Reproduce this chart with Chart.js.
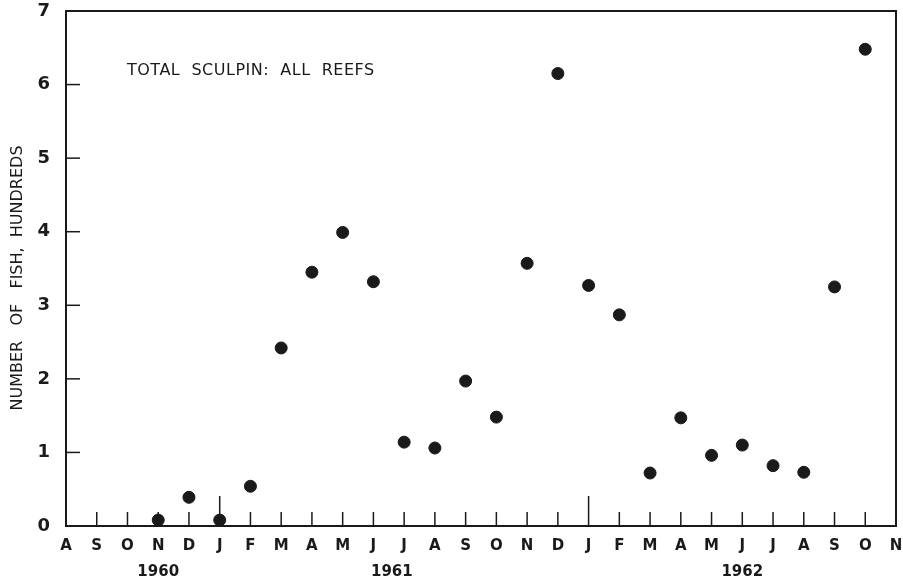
<!DOCTYPE html>
<html>
<head>
<meta charset="utf-8">
<script src="https://cdn.jsdelivr.net/npm/chart.js@4/dist/chart.umd.min.js"></script>
<style>
  html, body { margin: 0; padding: 0; background: #fff; }
  #wrap { width: 903px; height: 583px; }
</style>
</head>
<body>
<div id="wrap"><canvas id="myChart" width="903" height="583"></canvas></div>
<script>
// month letters along the bottom, Aug 1960 .. Nov 1962
const monthLabels = ["A","S","O","N","D","J","F","M","A","M","J","J","A","S","O","N","D","J","F","M","A","M","J","J","A","S","O","N"];
// month index (position on x) of each sample, Nov 1960 .. Oct 1962
const sampleMonths = [3,4,5,6,7,8,9,10,11,12,13,14,15,16,17,18,19,20,21,22,23,24,25,26];
// number of fish, hundreds
const fishHundreds = [0.08,0.39,0.08,0.54,2.42,3.45,3.99,3.32,1.14,1.06,1.97,1.48,3.57,6.15,3.27,2.87,0.72,1.47,0.96,1.10,0.82,0.73,3.25,6.48];
const yearLabels = ["1960","1961","1962"];
const yearPositions = [3,10.6,22];
const januaryMonths = [5,17];
const yTicks = [0,1,2,3,4,5,6,7];

const ink = '#1a1a1a';
const font = 'DejaVu Sans';

const points = sampleMonths.map((m, i) => ({ x: m, y: fishHundreds[i] }));

// inward ticks, frame, years and labels
const extras = {
  id: 'extras',
  afterDraw(chart) {
    const ctx = chart.ctx;
    const xs = chart.scales.x;
    const ys = chart.scales.y;
    const area = chart.chartArea;
    ctx.save();
    ctx.strokeStyle = ink;
    ctx.lineWidth = 2;
    // top and right frame
    ctx.beginPath();
    ctx.moveTo(area.left, area.top);
    ctx.lineTo(area.right, area.top);
    ctx.lineTo(area.right, area.bottom);
    ctx.stroke();
    // x ticks pointing up
    ctx.lineWidth = 1.5;
    for (let i = 1; i < monthLabels.length - 1; i++) {
      const px = xs.getPixelForValue(i);
      const len = januaryMonths.includes(i) ? 30 : 14;
      ctx.beginPath();
      ctx.moveTo(px, area.bottom);
      ctx.lineTo(px, area.bottom - len);
      ctx.stroke();
    }
    // y ticks pointing right
    for (let v = 1; v < 7; v++) {
      const py = ys.getPixelForValue(v);
      ctx.beginPath();
      ctx.moveTo(area.left, py);
      ctx.lineTo(area.left + 14, py);
      ctx.stroke();
    }
    // years
    ctx.fillStyle = ink;
    ctx.font = 'bold 15px "' + font + '"';
    ctx.textAlign = 'center';
    ctx.textBaseline = 'middle';
    yearLabels.forEach((y, i) => {
      ctx.fillText(y, xs.getPixelForValue(yearPositions[i]), 572);
    });
    // title inside plot
    ctx.font = '16px "' + font + '"';
    ctx.textAlign = 'left';
    ctx.letterSpacing = '0.5px';
    ctx.fillText('TOTAL  SCULPIN:  ALL  REEFS', 127, 71);
    ctx.letterSpacing = '0px';
    // y axis title
    ctx.translate(18, 278);
    ctx.rotate(-Math.PI / 2);
    ctx.textAlign = 'center';
    ctx.fillText('NUMBER   OF   FISH,  HUNDREDS', 0, 0);
    ctx.restore();
  }
};

const config = {
  type: 'scatter',
  data: {
    datasets: [{
      data: points,
      backgroundColor: ink,
      borderColor: ink,
      pointRadius: 6,
      pointHoverRadius: 6
    }]
  },
  options: {
    responsive: false,
    animation: false,
    plugins: { legend: { display: false }, tooltip: { enabled: false } },
    layout: { autoPadding: false, padding: { top: 11, right: 7, left: 0, bottom: 0 } },
    scales: {
      x: {
        type: 'linear',
        min: 0,
        max: monthLabels.length - 1,
        afterFit(scale) {
          scale.height = 57;
          scale.paddingLeft = 0;
          scale.paddingRight = 0;
        },
        afterBuildTicks(scale) {
          scale.ticks = monthLabels.map((l, i) => ({ value: i }));
        },
        ticks: {
          autoSkip: false,
          maxRotation: 0,
          padding: 11,
          color: ink,
          font: { family: font, size: 15, weight: 'bold' },
          callback: (v) => monthLabels[v]
        },
        grid: { display: false, drawTicks: false },
        border: { display: true, color: ink, width: 2 }
      },
      y: {
        min: 0,
        max: 7,
        afterFit(scale) {
          scale.width = 66;
          scale.paddingTop = 0;
          scale.paddingBottom = 0;
        },
        afterBuildTicks(scale) {
          scale.ticks = yTicks.map(v => ({ value: v }));
        },
        ticks: {
          padding: 16,
          color: ink,
          font: { family: font, size: 18, weight: 'bold' }
        },
        grid: { display: false, drawTicks: false },
        border: { display: true, color: ink, width: 2 }
      }
    }
  },
  plugins: [extras]
};

const myChart = new Chart(document.getElementById('myChart').getContext('2d'), config);
</script>
</body>
</html>
